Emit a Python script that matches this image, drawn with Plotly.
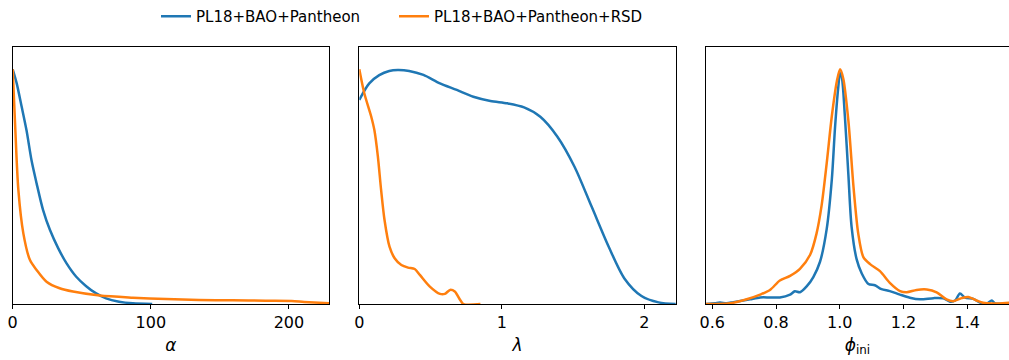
import plotly.graph_objects as go

# ---- data ----
series_names = ["PL18+BAO+Pantheon", "PL18+BAO+Pantheon+RSD"]
colors = ["#1f77b4", "#ff7f0e"]

# alpha panel
alpha_blue_x = [0, 2.9, 6.5, 10, 13.7, 17.3, 22, 27, 33, 39, 46, 53, 60.4, 67.6, 77, 87, 101]
alpha_blue_y = [1.0, 0.94, 0.84, 0.74, 0.61, 0.514, 0.40, 0.315, 0.237, 0.173, 0.116, 0.077, 0.045, 0.024, 0.010, 0.003, 0.0]
alpha_orange_x = [0, 1.7, 4.1, 7.7, 12.5, 17.3, 24.5, 34, 43.6, 63, 87, 111, 135, 159, 183, 202, 211, 229]
alpha_orange_y = [1.0, 0.77, 0.486, 0.301, 0.187, 0.145, 0.095, 0.067, 0.053, 0.036, 0.027, 0.021, 0.017, 0.016, 0.014, 0.013, 0.009, 0.003]

# lambda panel
lam_blue_x = [0, 0.07, 0.14, 0.21, 0.27, 0.35, 0.45, 0.566, 0.684, 0.80, 0.92, 1.04, 1.156, 1.27, 1.39, 1.51, 1.63, 1.75, 1.86, 1.98, 2.1, 2.23]
lam_blue_y = [0.87, 0.94, 0.975, 0.993, 0.997, 0.993, 0.976, 0.94, 0.912, 0.883, 0.865, 0.855, 0.838, 0.798, 0.713, 0.585, 0.415, 0.244, 0.109, 0.034, 0.007, 0.0]
lam_orange_x = [0, 0.035, 0.083, 0.106, 0.13, 0.153, 0.177, 0.212, 0.248, 0.295, 0.342, 0.389, 0.425, 0.495, 0.566, 0.60, 0.637, 0.67, 0.708, 0.73, 0.85]
lam_orange_y = [1.0, 0.898, 0.80, 0.74, 0.63, 0.486, 0.358, 0.244, 0.195, 0.166, 0.155, 0.149, 0.124, 0.074, 0.043, 0.043, 0.06, 0.053, 0.017, 0.0, 0.0]

# phi_ini panel
phi_blue_x = [0.58, 0.608, 0.624, 0.645, 0.666, 0.692, 0.718, 0.750, 0.781, 0.812, 0.844, 0.859, 0.875, 0.896, 0.917, 0.938, 0.959, 0.975, 0.985, 0.995, 1.001, 1.006, 1.016, 1.027, 1.037, 1.053, 1.069, 1.090, 1.110, 1.131, 1.157, 1.189, 1.220, 1.252, 1.294, 1.325, 1.346, 1.362, 1.377, 1.393, 1.419, 1.440, 1.461, 1.477, 1.487, 1.531, 1.57]
phi_blue_y = [0.0, 0.003, 0.006, 0.003, 0.008, 0.014, 0.02, 0.028, 0.028, 0.028, 0.04, 0.054, 0.05, 0.075, 0.115, 0.18, 0.32, 0.53, 0.75, 0.92, 0.983, 0.97, 0.80, 0.55, 0.33, 0.19, 0.13, 0.085, 0.08, 0.063, 0.055, 0.04, 0.027, 0.02, 0.025, 0.024, 0.01, 0.015, 0.045, 0.027, 0.022, 0.006, 0.002, 0.015, 0.003, 0.003, 0.003]
phi_orange_x = [0.58, 0.608, 0.656, 0.708, 0.750, 0.781, 0.812, 0.844, 0.875, 0.907, 0.927, 0.943, 0.959, 0.975, 0.991, 1.001, 1.011, 1.027, 1.043, 1.058, 1.074, 1.095, 1.126, 1.157, 1.189, 1.210, 1.241, 1.273, 1.304, 1.335, 1.356, 1.382, 1.403, 1.429, 1.450, 1.481, 1.531, 1.57]
phi_orange_y = [0.0, 0.0, 0.003, 0.02, 0.04, 0.06, 0.10, 0.12, 0.15, 0.21, 0.30, 0.42, 0.60, 0.80, 0.95, 1.0, 0.96, 0.78, 0.50, 0.30, 0.20, 0.17, 0.14, 0.09, 0.055, 0.05, 0.06, 0.062, 0.05, 0.02, 0.012, 0.025, 0.03, 0.015, 0.005, 0.002, 0.005, 0.005]

x_titles = ["<i>α</i>", "<i>λ</i>", "<i>ϕ</i><sub>ini</sub>"]
x_ranges = [[0, 229], [0, 2.22], [0.5802, 1.531]]
tick_vals = [[0, 100, 200], [0, 1, 2], [0.6, 0.8, 1.0, 1.2, 1.4]]
tick_text = [["0", "100", "200"], ["0", "1", "2"], ["0.6", "0.8", "1.0", "1.2", "1.4"]]

panels = [
    (alpha_blue_x, alpha_blue_y, alpha_orange_x, alpha_orange_y),
    (lam_blue_x, lam_blue_y, lam_orange_x, lam_orange_y),
    (phi_blue_x, phi_blue_y, phi_orange_x, phi_orange_y),
]

W, H = 1009, 360
px_domains = [(12.7, 329.0), (359.3, 675.7), (706.0, 1009.0)]
legend_ids = ["legend", "legend2"]

fig = go.Figure()
for i, (bx, by, ox, oy) in enumerate(panels):
    ax = "" if i == 0 else str(i + 1)
    for j, (xx, yy) in enumerate([(bx, by), (ox, oy)]):
        fig.add_trace(go.Scatter(
            x=xx, y=yy, mode="lines",
            line=dict(color=colors[j], width=2.5, shape="spline", smoothing=0.8),
            name=series_names[j], showlegend=(i == 0), legend=legend_ids[j],
            xaxis="x" + ax, yaxis="y" + ax, cliponaxis=True,
        ))

legend_common = dict(orientation="h", xanchor="left", y=1.0, yref="container",
                     yanchor="top", font=dict(size=15, color="black"),
                     itemwidth=30, bgcolor="rgba(0,0,0,0)")
layout = dict(
    width=W, height=H,
    margin=dict(l=0, r=0, t=47, b=56),
    paper_bgcolor="white", plot_bgcolor="white",
    font=dict(family="DejaVu Sans", size=16, color="black"),
    showlegend=True,
    legend=dict(x=156 / W, **legend_common),
    legend2=dict(x=394 / W, **legend_common),
)
for i in range(3):
    ax = "" if i == 0 else str(i + 1)
    d0, d1 = px_domains[i]
    layout["xaxis" + ax] = dict(
        domain=[d0 / W, d1 / W], range=x_ranges[i], anchor="y" + ax,
        showline=True, linecolor="black", linewidth=1, mirror=True,
        ticks="outside", ticklen=4, tickwidth=1, tickcolor="black",
        tickvals=tick_vals[i], ticktext=tick_text[i],
        tickfont=dict(size=16, color="black"),
        showgrid=False, zeroline=False, automargin=False,
        title=dict(text=x_titles[i], font=dict(size=17, color="black"), standoff=7),
    )
    layout["yaxis" + ax] = dict(
        domain=[0, 1], range=[0, 1.095], anchor="x" + ax,
        showline=True, linecolor="black", linewidth=1, mirror=(i < 2),
        showticklabels=False, ticks="", showgrid=False, zeroline=False,
        automargin=False,
    )
fig.update_layout(**layout)

fig.write_html("out.html", config={"displayModeBar": False},
               post_script="document.body.style.margin='0';document.body.style.overflow='hidden';")
